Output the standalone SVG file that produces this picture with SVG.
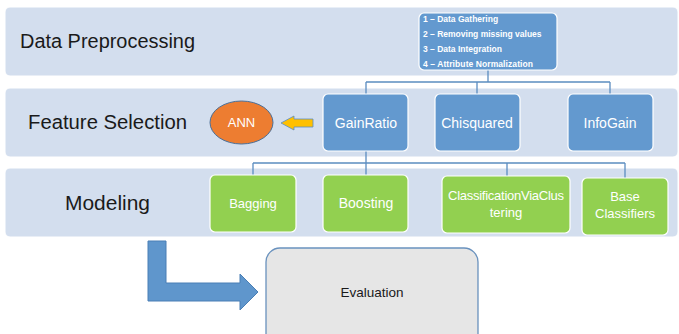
<svg xmlns="http://www.w3.org/2000/svg" width="679" height="334" viewBox="0 0 679 334">
  <style>
    .band { fill: #D3DEEE; stroke: #FFFFFF; stroke-width: 1; }
    .band-label { font-family: "Liberation Sans", Arial, sans-serif; font-size: 20px; fill: #1A1A1A; }
    .blue { fill: #6399CF; stroke: #FFFFFF; stroke-width: 1.2; }
    .green { fill: #92D050; stroke: #FFFFFF; stroke-width: 1.2; }
    .lbl { font-family: "Liberation Sans", Arial, sans-serif; font-size: 14px; fill: #FFFFFF; text-anchor: middle; }
    .glbl { font-family: "Liberation Sans", Arial, sans-serif; font-size: 13px; fill: #FFFFFF; text-anchor: middle; }
    .steps { font-family: "Liberation Sans", Arial, sans-serif; font-size: 8.5px; font-weight: bold; fill: #FFFFFF; }
    .wire { fill: none; stroke: #5B8DC0; stroke-width: 1.3; }
  </style>

  <!-- stage bands -->
  <g id="band-preprocessing">
    <rect class="band" x="5" y="7" width="673" height="69" rx="5"/>
    <text class="band-label" x="20" y="48" textLength="175" lengthAdjust="spacingAndGlyphs">Data Preprocessing</text>
  </g>
  <g id="band-feature-selection">
    <rect class="band" x="5" y="88" width="673" height="69" rx="5"/>
    <text class="band-label" x="28" y="129" textLength="159" lengthAdjust="spacingAndGlyphs">Feature Selection</text>
  </g>
  <g id="band-modeling">
    <rect class="band" x="5" y="168" width="673" height="69" rx="5"/>
    <text class="band-label" x="65" y="210" textLength="85" lengthAdjust="spacingAndGlyphs">Modeling</text>
  </g>

  <!-- tree connectors -->
  <g id="connectors">
    <path class="wire" d="M488 70 V82 M366 82 H610 M366 82 V94 M477 82 V94 M610 82 V94"/>
    <path class="wire" d="M366 151 V163 M253 163 H625 M253 163 V175 M366 163 V175 M507 163 V176 M625 163 V178"/>
  </g>

  <!-- preprocessing steps -->
  <g id="node-steps">
    <rect class="blue" x="419" y="13" width="138" height="57" rx="5"/>
    <text class="steps" x="423" y="22">1 – Data Gathering</text>
    <text class="steps" x="423" y="37">2 – Removing missing values</text>
    <text class="steps" x="423" y="52">3 – Data Integration</text>
    <text class="steps" x="423" y="67" textLength="110">4 – Attribute Normalization</text>
  </g>

  <!-- feature selection -->
  <g id="node-gainratio">
    <rect class="blue" x="323" y="94" width="85" height="57" rx="5"/>
    <text class="lbl" x="366" y="128">GainRatio</text>
  </g>
  <g id="node-chisquared">
    <rect class="blue" x="435" y="94" width="85" height="57" rx="5"/>
    <text class="lbl" x="477" y="128">Chisquared</text>
  </g>
  <g id="node-infogain">
    <rect class="blue" x="568" y="94" width="85" height="57" rx="5"/>
    <text class="lbl" x="610" y="128">InfoGain</text>
  </g>
  <g id="node-ann">
    <ellipse cx="241.5" cy="122.5" rx="31.5" ry="21.5" fill="#ED7D31" stroke="#4A6E96" stroke-width="1"/>
    <text class="glbl" x="241.5" y="127">ANN</text>
  </g>
  <g id="arrow-ann">
    <path d="M281 123 L294 116 V119 H313 V127 H294 V130 Z" fill="#FFC000" stroke="#5B8DC0" stroke-width="0.8"/>
  </g>

  <!-- modeling -->
  <g id="node-bagging">
    <rect class="green" x="210" y="175" width="86" height="57" rx="5"/>
    <text class="glbl" x="253" y="208">Bagging</text>
  </g>
  <g id="node-boosting">
    <rect class="green" x="323" y="175" width="85" height="57" rx="5"/>
    <text class="lbl" x="366" y="208">Boosting</text>
  </g>
  <g id="node-cvc">
    <rect class="green" x="442" y="176" width="128" height="57" rx="5"/>
    <text class="glbl" x="506" y="200" textLength="116">ClassificationViaClus</text>
    <text class="glbl" x="506" y="217">tering</text>
  </g>
  <g id="node-base">
    <rect class="green" x="582" y="178" width="86" height="57" rx="5"/>
    <text class="glbl" x="625" y="201">Base</text>
    <text class="glbl" x="625" y="218">Classifiers</text>
  </g>

  <!-- evaluation -->
  <g id="arrow-evaluation">
    <path d="M148 241 H166 V283 H240 V274 L258 292 L240 310 V301 H148 Z" fill="#5F96CC" stroke="#4A7FB5" stroke-width="1"/>
  </g>
  <g id="node-evaluation">
    <rect x="266" y="248" width="212" height="100" rx="14" fill="#E6E6E6" stroke="#6A92BE" stroke-width="1.3"/>
    <text x="372" y="297" font-family="Liberation Sans, Arial, sans-serif" font-size="13.5" fill="#1A1A1A" text-anchor="middle">Evaluation</text>
  </g>
</svg>
